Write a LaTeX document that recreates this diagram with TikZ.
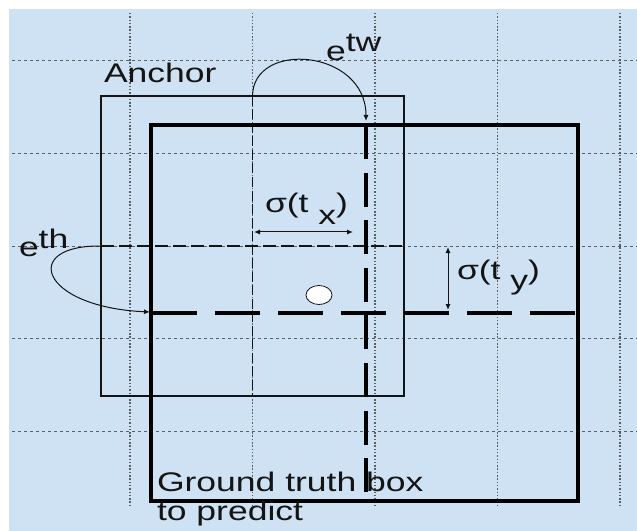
\documentclass[tikz,border=0pt]{standalone}
\usepackage{fontspec}
\setmainfont{Liberation Sans}
\usetikzlibrary{arrows.meta,shapes.geometric}
\definecolor{bgblue}{RGB}{207,226,243}
\definecolor{gridgray}{RGB}{90,95,100}
\definecolor{ink}{RGB}{20,20,20}
\newcommand{\sx}[1]{\scalebox{1.32}[1]{#1}}
\begin{document}
\begin{tikzpicture}[x=1bp,y=-1bp,
  hgrid/.style={gridgray, line width=1bp, dash pattern=on 3bp off 3bp},
  vgrid/.style={gridgray, line width=1.1bp, dash pattern=on 1.5bp off 1.8bp},
  thinbox/.style={draw=ink, line width=1.3bp, inner sep=0pt, outer sep=0pt, anchor=north west},
  thickbox/.style={draw=black, line width=4bp, inner sep=0pt, outer sep=0pt, anchor=north west},
  thindashv/.style={ink, line width=1.1bp, dash pattern=on 10bp off 3.5bp},
  thindashh/.style={ink, line width=1.1bp, dash pattern=on 13bp off 5bp},
  thickdashv/.style={black, line width=4bp, dash pattern=on 34bp off 13.6bp},
  thickdashh/.style={black, line width=4bp, dash pattern=on 45bp off 18bp},
  arr/.style={ink, line width=1bp, -{Latex[length=6bp,width=5bp]}},
  dimarr/.style={ink, line width=1bp, {Latex[length=6bp,width=5bp]}-{Latex[length=6bp,width=5bp]}},
  lbl/.style={inner sep=0pt, outer sep=0pt, anchor=base west, text=ink, font=\fontsize{27}{29}\selectfont}
]
\useasboundingbox (0,0) rectangle (637,531);
\fill[bgblue] (9,9.5) rectangle (637,531);
% grid
\foreach \y in {61,154,246,338,431} \draw[hgrid] (12,\y) -- (637,\y);
\foreach \x in {130,252.5,375,497.5,620} \draw[vgrid] (\x,13) -- (\x,507);
% anchor box
\node[thinbox, minimum width=303bp, minimum height=300bp] (anchorbox) at (101,96) {};
\draw[thindashv] (anchorbox.north) -- (anchorbox.south);
\draw[thindashh] (anchorbox.west) -- (anchorbox.east);
% ground truth box
\node[thickbox, minimum width=427bp, minimum height=376bp] (gt) at (151,125) {};
\coordinate (vtop) at (366,125);
\coordinate (vbot) at (366,492);
\draw[thickdashv] (vtop) -- (vbot);
\coordinate (hl) at (152,312.5);
\coordinate (hr) at (578,312.5);
\draw[thickdashh] (hl) -- (hr);
% centre dot
\node[draw=ink, fill=white, line width=0.8bp, ellipse, minimum width=26bp, minimum height=19bp, inner sep=0pt] (dot) at (319,295) {};
% curved arrows
\coordinate (etwtip) at (366,121);
\draw[arr] (anchorbox.north) .. controls (253,40) and (366,49) .. (etwtip);
\coordinate (ethtip) at (150,312);
\draw[arr] (anchorbox.west) .. controls (20,245) and (40,307) .. (ethtip);
% dimension arrows
\coordinate (sxl) at (254,232);
\coordinate (sxr) at (353,232);
\draw[dimarr] (sxl) -- (sxr);
\coordinate (syt) at (448,247);
\coordinate (syb) at (448,310);
\draw[dimarr] (syt) -- (syb);
% labels
\node[lbl] (anchorlbl) at (104,83) {\sx{Anchor}};
\node[lbl] (etw) at (326,61) {\sx{e\raisebox{9bp}{tw}}};
\node[lbl] (eth) at (19,256) {\sx{e\raisebox{7bp}{th}}};
\node[lbl] (stx) at (265,213) {\sx{σ(t \raisebox{-12bp}{x})}};
\node[lbl] (sty) at (457,279) {\sx{σ(t \raisebox{-10bp}{y})}};
\node[lbl] (gt1) at (157,491) {\sx{Ground truth box}};
\node[lbl] (gt2) at (157,520) {\sx{to predict}};
\end{tikzpicture}
\end{document}
